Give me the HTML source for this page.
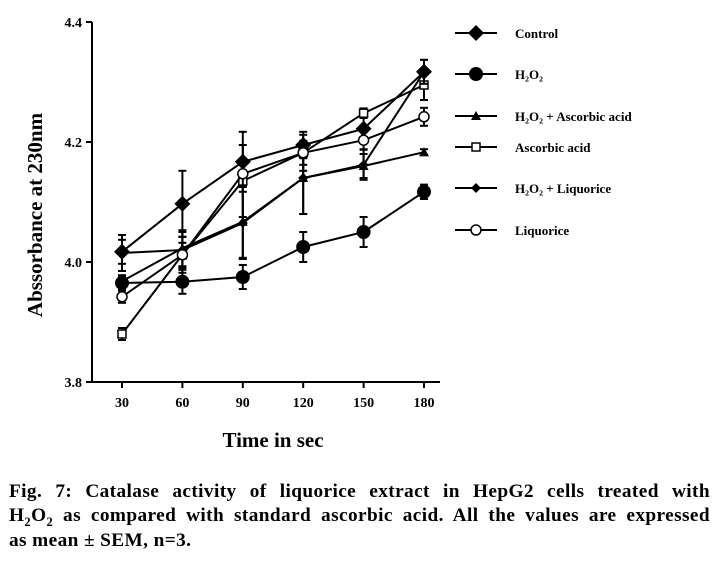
<!DOCTYPE html><html><head><style>
body{margin:0;background:#fff;width:725px;height:565px;overflow:hidden;font-family:"Liberation Serif",serif;}
.cl{position:absolute;left:9px;width:701px;font-weight:bold;font-size:19.3px;letter-spacing:0.4px;white-space:nowrap;text-align:justify;text-align-last:justify}
sub{font-size:12.5px}
</style></head><body>
<svg id="chart" width="725" height="470" style="position:absolute;left:0;top:0" font-family="Liberation Serif, serif" font-weight="bold"></svg>
<div>
<div class="cl" style="top:481px">Fig. 7: Catalase activity of liquorice extract in HepG2 cells treated with</div>
<div class="cl" style="top:505px">H<sub>2</sub>O<sub>2</sub> as compared with standard ascorbic acid. All the values are expressed</div>
<div class="cl" style="top:530px;text-align-last:left">as mean ± SEM, n=3.</div>
</div>
<script>
const categories=[30,60,90,120,150,180];
const yTicks=[3.8,4.0,4.2,4.4];
const control=[4.017,4.097,4.167,4.195,4.222,4.317];
const controlErr=[0.02,0.055,0.05,0.022,0.02,0.02];
const h2o2=[3.965,3.967,3.975,4.025,4.05,4.117];
const h2o2Err=[0.01,0.02,0.02,0.025,0.025,0.012];
const h2o2Asc=[3.968,4.023,4.067,4.14,4.16,4.183];
const h2o2AscErr=[0.01,0.03,0.06,0.06,0.02,0.005];
const ascorbic=[3.88,4.012,4.135,4.182,4.248,4.295];
const ascorbicErr=[0.01,0.03,0.06,0.03,0.008,0.025];
const h2o2Liq=[4.015,4.02,4.065,4.14,4.162,4.317];
const h2o2LiqErr=[0.03,0.03,0.06,0.06,0.025,0.02];
const liquorice=[3.942,4.012,4.147,4.182,4.203,4.242];
const liquoriceErr=[0.01,0.02,0.02,0.02,0.015,0.015];
const NS="http://www.w3.org/2000/svg",svg=document.getElementById('chart');
const X=v=>122+(v-30)/150*302, Y=v=>382-(v-3.8)/0.6*360;
function mk(t,a,p){const e=document.createElementNS(NS,t);for(const k in a)e.setAttribute(k,a[k]);(p||svg).appendChild(e);return e;}
const ax=mk('g',{stroke:'#000','stroke-width':2});

mk('line',{x1:92,y1:22,x2:92,y2:383},ax);mk('line',{x1:91,y1:382,x2:440,y2:382},ax);
yTicks.forEach(v=>{mk('line',{x1:86,x2:92,y1:Y(v),y2:Y(v)},ax);const t=mk('text',{x:82,y:Y(v)+5,'text-anchor':'end','font-size':14});t.textContent=v.toFixed(1);});
categories.forEach(c=>{mk('line',{x1:X(c),x2:X(c),y1:382,y2:388},ax);const t=mk('text',{x:X(c),y:407,'text-anchor':'middle','font-size':14});t.textContent=c;});
let t=mk('text',{x:273,y:447,'text-anchor':'middle','font-size':21});t.textContent='Time in sec';
t=mk('text',{x:0,y:0,'text-anchor':'middle','font-size':21,transform:'translate(42,215) rotate(-90)'});t.textContent='Abssorbance at 230nm';
function marker(type,x,y,g){
 if(type==='bigdiamond')mk('polygon',{points:`${x},${y-8} ${x+8},${y} ${x},${y+8} ${x-8},${y}`,fill:'#000'},g);
 if(type==='bigcircle')mk('circle',{cx:x,cy:y,r:7,fill:'#000'},g);
 if(type==='triangle')mk('polygon',{points:`${x},${y-5} ${x+5},${y+4} ${x-5},${y+4}`,fill:'#000'},g);
 if(type==='square')mk('rect',{x:x-4,y:y-4,width:8,height:8,fill:'#fff',stroke:'#000','stroke-width':1.5},g);
 if(type==='diamond')mk('polygon',{points:`${x},${y-5} ${x+5},${y} ${x},${y+5} ${x-5},${y}`,fill:'#000'},g);
 if(type==='circle')mk('circle',{cx:x,cy:y,r:5,fill:'#fff',stroke:'#000','stroke-width':1.5},g);
}
const series=[['control',control,controlErr,'bigdiamond','Control'],['h2o2',h2o2,h2o2Err,'bigcircle','H₂O₂'],['h2o2-ascorbic',h2o2Asc,h2o2AscErr,'triangle','H₂O₂ + Ascorbic acid'],['ascorbic',ascorbic,ascorbicErr,'square','Ascorbic acid'],['h2o2-liquorice',h2o2Liq,h2o2LiqErr,'diamond','H₂O₂ + Liquorice'],['liquorice',liquorice,liquoriceErr,'circle','Liquorice']];
const legY=[33,74,116,147,188,230];
series.forEach((s,i)=>{
 const g=mk('g',{});
 s[1].forEach((v,j)=>{const x=X(categories[j]),e=s[2][j];mk('line',{x1:x,x2:x,y1:Y(v+e),y2:Y(v-e),stroke:'#000','stroke-width':2},g);mk('line',{x1:x-4,x2:x+4,y1:Y(v+e),y2:Y(v+e),stroke:'#000','stroke-width':2},g);mk('line',{x1:x-4,x2:x+4,y1:Y(v-e),y2:Y(v-e),stroke:'#000','stroke-width':2},g);});
 mk('polyline',{points:s[1].map((v,j)=>X(categories[j])+','+Y(v)).join(' '),fill:'none',stroke:'#000','stroke-width':2},g);
 s[1].forEach((v,j)=>marker(s[3],X(categories[j]),Y(v),g));
 const l=mk('g',{});
 mk('line',{x1:455,x2:497,y1:legY[i],y2:legY[i],stroke:'#000','stroke-width':2},l);marker(s[3],476,legY[i],l);
 const tx=mk('text',{x:515,y:legY[i]+5,'font-size':13},l);tx.textContent=s[4];
});
</script></body></html>
